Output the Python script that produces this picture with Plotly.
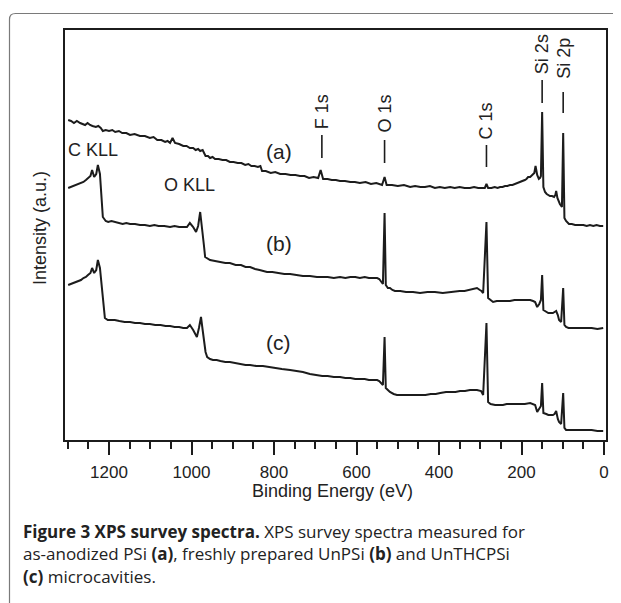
import plotly.graph_objects as go

# ---------------- data: (binding energy eV, intensity a.u.) ----------------
spectrum_a = [
    (1299, 320), (1292, 319), (1285, 317), (1278, 319), (1270, 317), (1264, 316), (1258, 315),
    (1252, 317), (1246, 315), (1240, 314), (1232, 313), (1226, 314), (1220, 312), (1215, 309),
    (1208, 310), (1200, 309), (1192, 310), (1185, 308), (1176, 309), (1168, 307), (1158, 307),
    (1149, 305), (1138, 306), (1125, 304), (1113, 304), (1101, 302), (1092, 303), (1083, 300),
    (1073, 300), (1064, 298), (1058, 299), (1052, 297), (1046, 302), (1040, 297), (1030, 296),
    (1020, 294), (1012, 294), (1004, 292), (996, 292), (990, 290), (984, 291), (979, 289),
    (973, 290), (966, 284), (960, 284), (955, 282), (949, 283), (943, 281), (934, 281),
    (925, 280), (916, 280), (907, 278), (898, 278), (888, 277), (879, 277), (870, 275),
    (862, 276), (855, 274), (847, 274), (839, 273), (833, 274), (829, 269), (820, 269),
    (808, 267), (797, 268), (785, 266), (772, 266), (760, 265), (748, 265), (737, 264),
    (726, 264), (715, 262), (704, 263), (693, 262), (687, 270), (681, 261), (670, 261),
    (660, 260), (650, 260), (640, 259), (628, 259), (615, 258), (604, 258), (592, 257),
    (578, 258), (565, 256), (552, 257), (538, 255), (532, 263), (527, 255), (514, 255),
    (500, 254), (485, 255), (470, 253), (458, 254), (445, 253), (434, 253), (422, 254),
    (410, 252), (398, 253), (386, 252), (373, 253), (362, 252), (350, 253), (338, 252),
    (325, 252), (315, 253), (305, 252), (297, 252), (289, 252), (285, 256), (281, 252),
    (273, 252), (265, 253), (258, 252), (252, 253), (246, 253), (240, 254), (234, 254),
    (228, 255), (222, 255), (215, 256), (210, 257), (204, 258), (198, 259), (192, 260),
    (188, 261), (184, 263), (179, 263), (175, 265), (171, 266), (169, 267), (166, 274),
    (162, 265), (158, 261), (155, 262), (153, 264), (150, 328), (147, 253), (143, 248),
    (139, 246), (136, 245), (131, 244), (126, 244), (121, 243), (118, 245), (116, 249),
    (113, 242), (110, 238), (107, 236), (102, 233), (99, 307), (96, 222), (92, 219),
    (85, 216), (78, 216), (70, 215), (60, 215), (50, 215), (42, 214), (34, 215), (26, 214),
    (18, 215), (10, 214), (2, 214),
]

spectrum_b = [
    (1299, 252), (1293, 253), (1288, 254), (1281, 255), (1275, 256), (1268, 257), (1262, 258),
    (1256, 260), (1251, 262), (1245, 264), (1241, 270), (1236, 263), (1231, 266), (1227, 275),
    (1222, 266), (1218, 240), (1215, 223), (1208, 219), (1202, 218), (1194, 219), (1185, 218),
    (1176, 217), (1167, 216), (1158, 217), (1149, 216), (1137, 216), (1125, 215), (1113, 215),
    (1101, 214), (1090, 215), (1080, 214), (1066, 214), (1052, 213), (1041, 214), (1030, 213),
    (1020, 213), (1011, 213), (1004, 217), (996, 213), (989, 208), (984, 214), (979, 228),
    (975, 210), (970, 195), (967, 183), (960, 181), (955, 180), (943, 179), (930, 178),
    (918, 177), (907, 177), (893, 175), (880, 175), (869, 173), (858, 173), (846, 171),
    (835, 170), (826, 169), (817, 168), (804, 168), (790, 167), (775, 166), (761, 166),
    (745, 165), (730, 164), (713, 164), (696, 163), (683, 163), (670, 163), (655, 162),
    (640, 163), (627, 162), (615, 163), (603, 163), (592, 162), (580, 163), (570, 162),
    (560, 162), (550, 162), (545, 161), (541, 159), (536, 156), (532, 227), (529, 155),
    (524, 152), (519, 152), (513, 150), (507, 149), (494, 149), (480, 148), (463, 148),
    (446, 147), (428, 148), (410, 148), (391, 147), (373, 148), (361, 148), (350, 149),
    (338, 149), (325, 150), (316, 151), (308, 152), (301, 150), (297, 149), (293, 147),
    (285, 218), (281, 142), (275, 140), (269, 138), (260, 139), (250, 139), (239, 139),
    (228, 139), (217, 140), (205, 140), (192, 140), (179, 140), (172, 139), (167, 138),
    (162, 133), (157, 136), (153, 140), (150, 165), (147, 130), (140, 128), (135, 127),
    (130, 127), (124, 127), (120, 128), (116, 129), (112, 125), (109, 120), (104, 118),
    (99, 152), (96, 115), (92, 113), (86, 112), (80, 112), (70, 112), (58, 112), (44, 112),
    (30, 112), (16, 111), (2, 112),
]

spectrum_c = [
    (1299, 155), (1293, 156), (1288, 157), (1281, 158), (1275, 159), (1268, 160), (1262, 162),
    (1256, 163), (1251, 165), (1245, 167), (1241, 172), (1236, 167), (1231, 170), (1227, 180),
    (1222, 172), (1216, 145), (1210, 122), (1203, 120), (1197, 120), (1186, 120), (1175, 119),
    (1162, 118), (1149, 118), (1137, 117), (1125, 117), (1113, 116), (1101, 116), (1088, 115),
    (1075, 115), (1063, 114), (1052, 114), (1041, 113), (1030, 113), (1020, 112), (1011, 112),
    (1004, 115), (996, 110), (987, 103), (982, 112), (977, 123), (973, 110), (970, 100),
    (966, 88), (962, 83), (955, 81), (948, 80), (939, 80), (930, 79), (918, 78), (907, 78),
    (893, 77), (880, 76), (869, 75), (858, 75), (843, 74), (827, 74), (814, 73), (800, 72),
    (781, 71), (761, 70), (745, 69), (730, 68), (713, 66), (696, 65), (683, 64), (670, 64),
    (655, 63), (640, 63), (627, 62), (615, 62), (603, 61), (592, 61), (580, 61), (570, 60),
    (560, 60), (550, 60), (545, 59), (541, 57), (536, 55), (532, 103), (529, 52), (524, 50),
    (519, 48), (510, 46), (502, 45), (489, 45), (475, 45), (460, 45), (446, 45), (433, 45),
    (420, 46), (408, 46), (397, 47), (383, 48), (370, 48), (360, 48), (349, 49), (337, 49),
    (325, 50), (316, 50), (308, 50), (298, 49), (293, 45), (285, 117), (281, 38), (275, 36),
    (264, 35), (255, 35), (245, 35), (236, 36), (228, 36), (216, 36), (205, 36), (192, 36),
    (179, 37), (172, 36), (167, 35), (162, 28), (157, 31), (153, 34), (150, 57), (147, 27),
    (140, 26), (135, 25), (130, 25), (124, 25), (120, 26), (116, 29), (112, 21), (109, 18),
    (104, 16), (99, 47), (96, 12), (92, 10), (86, 10), (80, 10), (70, 10), (58, 10), (44, 10),
    (30, 10), (16, 9), (2, 9),
]

x_tick_values = [0, 200, 400, 600, 800, 1000, 1200]
x_tick_labels = ["0", "200", "400", "600", "800", "1000", "1200"]

peak_names = ["F 1s", "O 1s", "C 1s", "Si 2s", "Si 2p"]
peak_energy = [684, 532, 285, 150, 99]

# ---------------- layout geometry (reference page pixels) ----------------
OFF = 8                      # default body margin of the html page
PAGE_W, PAGE_H = 621, 603
W, H = PAGE_W - OFF, PAGE_H - OFF
PL, PR, PT, PB = 65, 606, 30, 440
XR = [1306.7, -4.8]
YR = [0, 410]


def px_to_paper_x(px):
    return (px - PL) / (PR - PL)


def py_to_paper_y(py):
    return (PB - py) / (PB - PT)


LINE = "#1c1c1c"
FONT = "Liberation Sans"

fig = go.Figure()
for spec in (spectrum_a, spectrum_b, spectrum_c):
    ev = [p[0] for p in spec]
    inten = [p[1] for p in spec]
    fig.add_trace(go.Scatter(x=ev, y=inten, mode="lines",
                             line=dict(color=LINE, width=2), showlegend=False,
                             hoverinfo="skip"))

fig.update_layout(
    width=W, height=H,
    margin=dict(l=PL - OFF, r=W - (PR - OFF), t=PT - OFF, b=H - (PB - OFF), pad=0),
    paper_bgcolor="white", plot_bgcolor="white",
    font=dict(family=FONT, color="#222"),
    showlegend=False,
)
fig.update_xaxes(
    range=XR, showgrid=False, zeroline=False,
    showline=True, linecolor=LINE, linewidth=2, mirror=True,
    ticks="outside", ticklen=13, tickwidth=2, tickcolor=LINE,
    tickvals=x_tick_values, ticktext=x_tick_labels, ticklabelstandoff=3,
    tickfont=dict(size=17, family=FONT, color="#222"),
    minor=dict(dtick=50, tick0=0, ticks="outside", ticklen=7, tickwidth=2, tickcolor=LINE),
)
fig.update_yaxes(
    range=YR, showgrid=False, zeroline=False, showticklabels=False,
    showline=True, linecolor=LINE, linewidth=2, mirror=True, ticks="",
)

ann = []
ann.append(dict(text="Binding Energy (eV)", xref="paper", yref="paper",
                x=px_to_paper_x(332), y=py_to_paper_y(491), showarrow=False,
                xanchor="center", yanchor="middle", font=dict(size=18, family=FONT, color="#222")))
ann.append(dict(text="Intensity (a.u.)", xref="paper", yref="paper",
                x=px_to_paper_x(40), y=py_to_paper_y(228), showarrow=False, textangle=-90,
                xanchor="center", yanchor="middle", font=dict(size=18, family=FONT, color="#222")))

for txt, ex, iy, sz in [("(a)", 788, 289, 21), ("(b)", 788, 197, 21), ("(c)", 788, 98, 21),
                        ("C KLL", 1239, 290, 18), ("O KLL", 1006, 255, 18)]:
    ann.append(dict(text=txt, x=ex, y=iy, xref="x", yref="y", showarrow=False,
                    xanchor="center", yanchor="middle", font=dict(size=sz, family=FONT, color="#222")))

label_center = [328.5, 326, 319, 386, 381.5]
dash_span = [(282, 305), (277, 300), (273, 295), (337, 360), (327, 348)]
shapes = []
for name, ex, yc, (d0, d1) in zip(peak_names, peak_energy, label_center, dash_span):
    ann.append(dict(text=name, x=ex, y=yc, xref="x", yref="y", showarrow=False, textangle=-90,
                    xanchor="center", yanchor="middle", font=dict(size=18, family=FONT, color="#222")))
    shapes.append(dict(type="line", xref="x", yref="y", x0=ex, x1=ex, y0=d0, y1=d1,
                       line=dict(color=LINE, width=1.6)))

cap_font = dict(size=17, family="Open Sans", color="#222")
captions = [
    ("<b>Figure 3 XPS survey spectra.</b> XPS survey spectra measured for", 531),
    ("as-anodized PSi <b>(a)</b>, freshly prepared UnPSi <b>(b)</b> and UnTHCPSi", 553),
    ("<b>(c)</b> microcavities.", 576),
]
for txt, py in captions:
    ann.append(dict(text=txt, xref="paper", yref="paper", x=px_to_paper_x(21), y=py_to_paper_y(py),
                    showarrow=False, xanchor="left", yanchor="middle", font=cap_font))

fx0, fy0, r = 9.5, 13.5, 6
fx1, fy1 = 640, 640
path = (f"M {px_to_paper_x(fx0)},{py_to_paper_y(fy1)} "
        f"L {px_to_paper_x(fx0)},{py_to_paper_y(fy0 + r)} "
        f"Q {px_to_paper_x(fx0)},{py_to_paper_y(fy0)} {px_to_paper_x(fx0 + r)},{py_to_paper_y(fy0)} "
        f"L {px_to_paper_x(fx1)},{py_to_paper_y(fy0)}")
shapes.append(dict(type="path", xref="paper", yref="paper", path=path,
                   line=dict(color="#7a7a7a", width=1.2), layer="above"))

fig.update_layout(annotations=ann, shapes=shapes)
fig.write_html("out.html")
